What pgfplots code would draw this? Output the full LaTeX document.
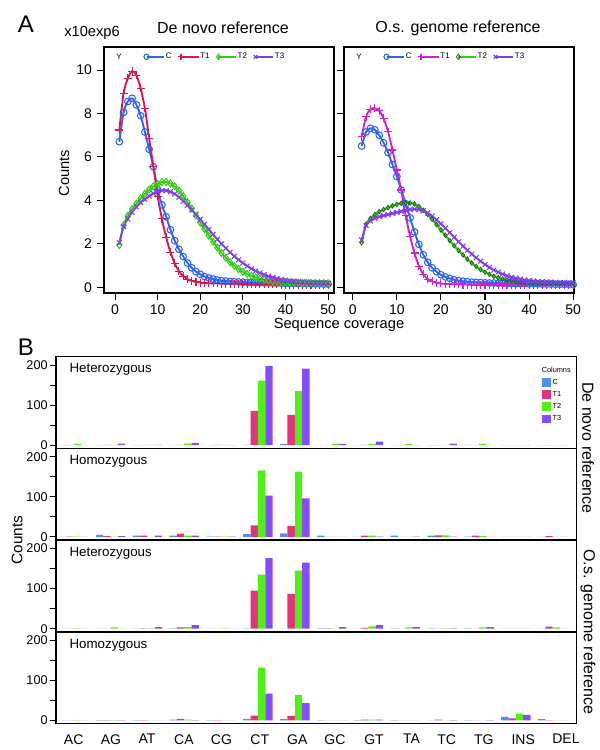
\documentclass[border=0pt]{standalone}
\usepackage{fontspec}
\setmainfont{Liberation Sans}
\usepackage{pgfplots}
\usepackage{pgfplotstable}
\pgfplotsset{compat=1.18}

\definecolor{aC}{RGB}{45,100,245}
\definecolor{aT1}{RGB}{220,20,80}
\definecolor{aT1r}{RGB}{215,30,205}
\definecolor{aT2}{RGB}{50,205,20}
\definecolor{aT2m}{RGB}{30,100,20}
\definecolor{aT3}{RGB}{130,60,240}
\definecolor{bC}{RGB}{75,145,245}
\definecolor{bT1}{RGB}{230,50,125}
\definecolor{bT2}{RGB}{80,240,20}
\definecolor{bT3}{RGB}{135,75,250}

\pgfplotstableread{
x C T1 T2 T3
1 6.70 7.24 1.95 2.05
2 8.05 8.93 2.85 2.80
3 8.55 9.62 3.30 3.15
4 8.70 9.95 3.60 3.45
5 8.40 9.77 3.85 3.70
6 7.90 9.16 4.10 3.90
7 7.15 8.24 4.30 4.05
8 6.35 6.86 4.50 4.20
9 5.55 5.55 4.65 4.32
10 4.50 4.20 4.75 4.40
11 3.80 3.15 4.85 4.45
12 3.25 2.30 4.85 4.45
13 2.65 1.62 4.78 4.40
14 2.15 1.10 4.65 4.30
15 1.75 0.75 4.45 4.15
16 1.42 0.52 4.20 3.97
17 1.12 0.38 3.92 3.77
18 0.90 0.30 3.62 3.56
19 0.72 0.25 3.30 3.35
20 0.60 0.22 2.98 3.13
21 0.50 0.20 2.68 2.90
22 0.43 0.19 2.38 2.67
23 0.38 0.18 2.10 2.44
24 0.34 0.18 1.83 2.21
25 0.31 0.17 1.58 2.00
26 0.29 0.17 1.36 1.80
27 0.27 0.16 1.16 1.61
28 0.26 0.16 0.99 1.43
29 0.25 0.16 0.84 1.27
30 0.24 0.15 0.72 1.12
31 0.23 0.15 0.62 0.98
32 0.22 0.15 0.53 0.86
33 0.22 0.15 0.46 0.75
34 0.21 0.14 0.40 0.66
35 0.21 0.14 0.36 0.58
36 0.20 0.14 0.32 0.51
37 0.20 0.14 0.29 0.45
38 0.19 0.14 0.27 0.40
39 0.19 0.13 0.25 0.36
40 0.18 0.13 0.24 0.33
41 0.18 0.13 0.23 0.30
42 0.18 0.13 0.22 0.28
43 0.17 0.13 0.22 0.26
44 0.17 0.13 0.21 0.25
45 0.17 0.12 0.21 0.24
46 0.16 0.12 0.20 0.23
47 0.16 0.12 0.20 0.22
48 0.16 0.12 0.20 0.21
49 0.15 0.12 0.19 0.21
50 0.15 0.12 0.19 0.20
}\denovo

\pgfplotstableread{
x C T1 T2 T3
2 6.50 6.93 2.05 2.18
3 7.15 7.85 2.90 2.85
4 7.32 8.20 3.17 3.05
5 7.25 8.24 3.35 3.18
6 7.00 8.12 3.48 3.25
7 6.65 7.77 3.58 3.30
8 6.20 7.16 3.67 3.35
9 5.65 6.32 3.75 3.40
10 5.10 5.40 3.82 3.45
11 4.48 4.48 3.87 3.50
12 3.85 3.30 3.89 3.55
13 3.20 2.35 3.88 3.58
14 2.55 1.58 3.83 3.60
15 1.98 0.98 3.72 3.58
16 1.50 0.60 3.55 3.52
17 1.15 0.38 3.35 3.42
18 0.90 0.27 3.13 3.28
19 0.72 0.21 2.89 3.11
20 0.58 0.18 2.64 2.92
21 0.48 0.16 2.39 2.72
22 0.41 0.15 2.15 2.52
23 0.35 0.14 1.92 2.31
24 0.31 0.14 1.70 2.10
25 0.28 0.13 1.49 1.90
26 0.26 0.13 1.30 1.71
27 0.24 0.12 1.12 1.53
28 0.23 0.12 0.96 1.36
29 0.22 0.12 0.82 1.20
30 0.21 0.12 0.70 1.05
31 0.20 0.11 0.60 0.92
32 0.20 0.11 0.51 0.80
33 0.19 0.11 0.44 0.70
34 0.19 0.11 0.38 0.61
35 0.18 0.11 0.34 0.53
36 0.18 0.11 0.30 0.47
37 0.17 0.10 0.27 0.42
38 0.17 0.10 0.25 0.38
39 0.17 0.10 0.23 0.34
40 0.16 0.10 0.22 0.31
41 0.16 0.10 0.21 0.29
42 0.16 0.10 0.20 0.27
43 0.15 0.10 0.20 0.26
44 0.15 0.10 0.19 0.25
45 0.15 0.10 0.19 0.24
46 0.14 0.10 0.18 0.23
47 0.14 0.10 0.18 0.22
48 0.14 0.10 0.18 0.22
49 0.14 0.10 0.17 0.21
50 0.13 0.10 0.17 0.21
}\osgenome

% x: 0 AC,1 AG,2 AT,3 CA,4 CG,5 CT,6 GA,7 GC,8 GT,9 TA,10 TC,11 TG,12 INS,13 DEL
\pgfplotstableread{
x C T1 T2 T3
0 0 0 3 0
1 0 1 1 4
2 0 0 1 1
3 0 1 4 6
4 0 1 1 0
5 1 86 161 198
6 3 76 135 191
7 0 0 3 3
8 0 1 3 9
9 0 0 3 0
10 0 0 0 4
11 1 0 3 0
12 0 0 0 0
13 0 0 0 0
}\pA

\pgfplotstableread{
x C T1 T2 T3
0 0 1 1 0
1 5 2 0 2
2 3 3 0 3
3 3 8 3 3
4 1 1 1 1
5 7 29 166 103
6 9 27 163 96
7 3 0 0 0
8 0 3 3 1
9 3 0 0 1
10 3 4 4 1
11 1 3 2 0
12 0 0 0 0
13 0 2 0 0
}\pB

\pgfplotstableread{
x C T1 T2 T3
0 0 0 1 0
1 0 0 3 0
2 0 1 1 4
3 1 3 4 9
4 0 0 1 0
5 1 95 135 176
6 0 87 145 165
7 1 1 0 4
8 0 2 6 9
9 1 0 3 4
10 1 0 1 1
11 1 0 3 4
12 0 0 0 0
13 0 5 3 0
}\pC

\pgfplotstableread{
x C T1 T2 T3
0 0 0 1 0
1 1 1 1 1
2 1 1 0 0
3 2 4 2 1
4 1 1 0 0
5 4 12 132 67
6 3 11 64 43
7 1 0 0 0
8 1 2 2 2
9 1 0 0 0
10 0 2 0 1
11 1 0 0 1
12 9 5 17 14
13 3 1 0 0
}\pD

\pgfplotsset{
  Apanel/.style={
    scale only axis, width=172.5pt, height=184.5pt,
    anchor=south west,
    ymin=-0.26, ymax=11.06,
    xtick={0,10,...,50}, ytick={0,2,...,10},
    tick align=outside, tick pos=left,
    major tick length=5.5pt,
    axis line style={line width=1pt},
    every tick/.style={black, line width=0.8pt},
    tick label style={font=\fontsize{10.5}{12}\selectfont},
    /pgf/number format/assume math mode=true,
    clip=true,
    legend columns=4,
    legend style={draw=none, fill=none, anchor=west,
      font=\fontsize{6}{7}\selectfont,
      /tikz/every even column/.append style={column sep=4pt},
      nodes={inner sep=1pt}},
    legend image code/.code={\draw[mark indices={1},##1,line width=1pt,mark size=2pt] plot coordinates {(2pt,0pt) (15pt,0pt)};},
  },
  Cline/.style={aC, line width=1.4pt, smooth, mark=o, mark size=2.5pt, mark options={line width=0.8pt, solid}},
  T1line/.style={#1, line width=1.4pt, smooth, mark=+, mark size=3pt, mark options={line width=0.8pt, solid}},
  T2line/.style={aT2, line width=1.4pt, smooth, mark=diamond, mark size=2.6pt, mark options={line width=0.8pt, solid}},
  T2lineB/.style={aT2, line width=1.6pt, smooth, mark=diamond, mark size=1.7pt, mark options={line width=0.6pt, solid, draw=aT2m}},
  T3line/.style={aT3, line width=1.4pt, smooth, mark=x, mark size=2.6pt, mark options={line width=0.8pt, solid}},
  Bpanel/.style={
    scale only axis, width=390.5pt, height=68.8pt,
    anchor=north west,
    xmin=-0.48, xmax=13.65, ymin=-8, ymax=221,
    ytick={0,50,...,200}, yticklabels={0,,100,,200},
    xtick={0,1.01,1.99,2.99,4.01,5.05,6.07,7.09,8.15,9.17,10.12,11.13,12.2,13.36},
    xticklabels={},
    xtick style={draw=none},
    tick align=outside, ytick pos=left,
    major tick length=4.5pt,
    axis line style={line width=1pt},
    every tick/.style={black, line width=0.8pt},
    yticklabel style={font=\fontsize{9.5}{10}\selectfont, inner sep=0.6pt, xshift=-1pt},
    xticklabel style={font=\fontsize{10.5}{12}\selectfont},
    /pgf/number format/assume math mode=true,
  },
  bars/.style={ybar, bar width=0.2, bar shift=#1, draw=none},
  Blegend/.style={
    legend style={at={(rel axis cs:0.926,0.80)}, anchor=north west, draw=none, fill=none,
      font=\fontsize{5.5}{6}\selectfont, row sep=2.2pt, nodes={inner sep=0.8pt}},
    legend cell align=left,
    legend image code/.code={\draw[##1,/tikz/.cd,draw=none] (0pt,-3.3pt) rectangle (6.8pt,3.3pt);},
  },
}

\begin{document}
\begin{tikzpicture}
\path[use as bounding box] (0pt,0pt) rectangle (450pt,-562.5pt);

% ---------------- Panel A ----------------
\node[font=\fontsize{18}{20}\selectfont] at (19.5pt,-18pt) {A};
\node[font=\fontsize{11}{12}\selectfont] at (69pt,-25pt) {x10exp6};
\node[font=\fontsize{12}{14}\selectfont] at (167.25pt,-21pt) {De novo reference};
\node[font=\fontsize{12}{14}\selectfont] at (343.5pt,-21pt) {O.s. genome reference};
\node[font=\fontsize{11}{12}\selectfont, rotate=90] at (48pt,-129.75pt) {Counts};
\node[font=\fontsize{11}{12}\selectfont] at (254.25pt,-243.75pt) {Sequence coverage};

\begin{axis}[Apanel, at={(78pt,-219.75pt)}, xmin=-2.6, xmax=51.4,
  legend style={at={(rel axis cs:0.155,0.96)}}]
  \addplot[Cline] table[x=x,y=C] {\denovo};
  \addplot[T1line=aT1] table[x=x,y=T1] {\denovo};
  \addplot[T2line] table[x=x,y=T2] {\denovo};
  \addplot[T3line] table[x=x,y=T3] {\denovo};
  \legend{C,T1,T2,T3}
  \node[font=\fontsize{6}{7}\selectfont] at (rel axis cs:0.065,0.96) {Y};
\end{axis}

\begin{axis}[Apanel, at={(258pt,-219.75pt)}, xmin=-2.0, xmax=50.2,
  yticklabels={},
  legend style={at={(rel axis cs:0.155,0.96)}}]
  \addplot[Cline] table[x=x,y=C] {\osgenome};
  \addplot[T1line=aT1r] table[x=x,y=T1] {\osgenome};
  \addplot[T2lineB] table[x=x,y=T2] {\osgenome};
  \addplot[T3line] table[x=x,y=T3] {\osgenome};
  \legend{C,T1,T2,T3}
  \node[font=\fontsize{6}{7}\selectfont] at (rel axis cs:0.065,0.96) {Y};
\end{axis}

% ---------------- Panel B ----------------
\node[font=\fontsize{18}{20}\selectfont] at (19.5pt,-260.25pt) {B};
\node[font=\fontsize{11.5}{12}\selectfont, rotate=90] at (12.75pt,-405pt) {Counts};
\node[font=\fontsize{12}{14}\selectfont, rotate=-90] at (441pt,-336pt) {De novo reference};
\node[font=\fontsize{12}{14}\selectfont, rotate=-90] at (441pt,-474pt) {O.s. genome reference};

\begin{axis}[Bpanel, Blegend, at={(42pt,-267.5pt)}]
  \addplot[bars=-0.3, fill=bC] table[x=x,y=C] {\pA};
  \addplot[bars=-0.1, fill=bT1] table[x=x,y=T1] {\pA};
  \addplot[bars=0.1, fill=bT2] table[x=x,y=T2] {\pA};
  \addplot[bars=0.3, fill=bT3] table[x=x,y=T3] {\pA};
  \legend{C,T1,T2,T3}
  \node[font=\fontsize{10}{12}\selectfont, anchor=west] at (rel axis cs:0.017,0.858) {Heterozygous};
  \node[font=\fontsize{5.5}{6}\selectfont, anchor=west] at (rel axis cs:0.924,0.86) {Columns};
\end{axis}

\begin{axis}[Bpanel, at={(42pt,-336.3pt)}]
  \addplot[bars=-0.3, fill=bC] table[x=x,y=C] {\pB};
  \addplot[bars=-0.1, fill=bT1] table[x=x,y=T1] {\pB};
  \addplot[bars=0.1, fill=bT2] table[x=x,y=T2] {\pB};
  \addplot[bars=0.3, fill=bT3] table[x=x,y=T3] {\pB};
  \node[font=\fontsize{10}{12}\selectfont, anchor=west] at (rel axis cs:0.017,0.858) {Homozygous};
\end{axis}

\begin{axis}[Bpanel, at={(42pt,-405.1pt)}]
  \addplot[bars=-0.3, fill=bC] table[x=x,y=C] {\pC};
  \addplot[bars=-0.1, fill=bT1] table[x=x,y=T1] {\pC};
  \addplot[bars=0.1, fill=bT2] table[x=x,y=T2] {\pC};
  \addplot[bars=0.3, fill=bT3] table[x=x,y=T3] {\pC};
  \node[font=\fontsize{10}{12}\selectfont, anchor=west] at (rel axis cs:0.017,0.858) {Heterozygous};
\end{axis}

\begin{axis}[Bpanel, at={(42pt,-473.9pt)},
  xticklabels={AC,AG,AT,CA,CG,CT,GA,GC,GT,TA,TC,TG,INS,DEL}]
  \addplot[bars=-0.3, fill=bC] table[x=x,y=C] {\pD};
  \addplot[bars=-0.1, fill=bT1] table[x=x,y=T1] {\pD};
  \addplot[bars=0.1, fill=bT2] table[x=x,y=T2] {\pD};
  \addplot[bars=0.3, fill=bT3] table[x=x,y=T3] {\pD};
  \node[font=\fontsize{10}{12}\selectfont, anchor=west] at (rel axis cs:0.017,0.858) {Homozygous};
\end{axis}
\end{tikzpicture}
\end{document}
